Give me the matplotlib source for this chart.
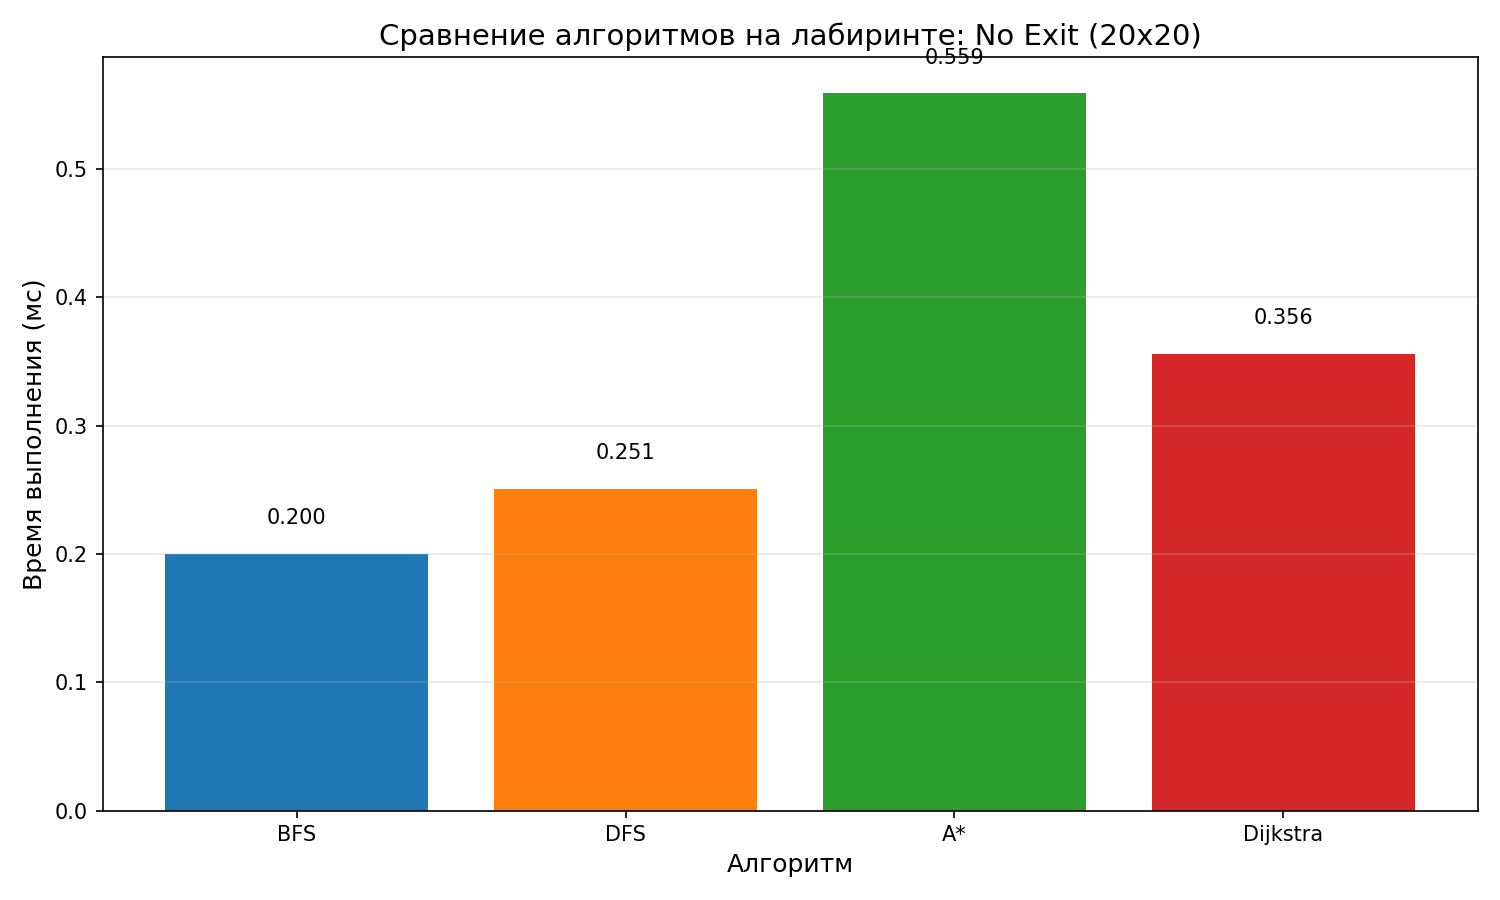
import matplotlib
matplotlib.use("Agg")
import matplotlib.pyplot as plt

# data
algorithms = ["BFS", "DFS", "A*", "Dijkstra"]
times_ms = [0.200, 0.251, 0.559, 0.356]
colors = ["#1f77b4", "#ff7f0e", "#2ca02c", "#d62728"]

fig, ax = plt.subplots(figsize=(10, 6), dpi=150)
bars = ax.bar(algorithms, times_ms, color=colors)

for bar, t in zip(bars, times_ms):
    ax.text(bar.get_x() + bar.get_width() / 2, t + 0.02, "%.3f" % t,
            ha="center", va="bottom", fontsize=10)

ax.set_ylim(0, max(times_ms) * 1.05)
ax.set_title("Сравнение алгоритмов на лабиринте: No Exit (20x20)", fontsize=14)
ax.set_xlabel("Алгоритм", fontsize=12)
ax.set_ylabel("Время выполнения (мс)", fontsize=12)
ax.grid(axis="y", alpha=0.3)

plt.tight_layout()
plt.savefig("out.png")
